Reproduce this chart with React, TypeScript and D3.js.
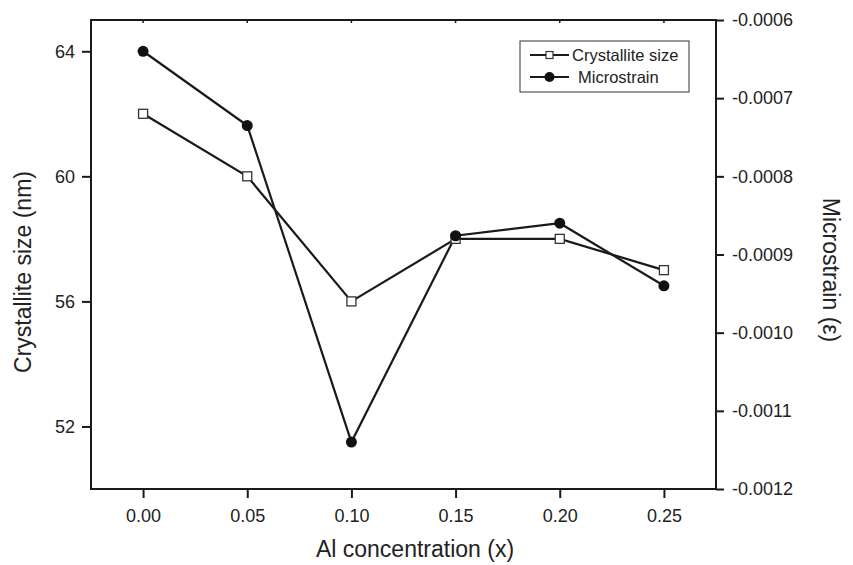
import React, {useEffect, useRef} from 'react';
import * as d3 from 'd3';

// Al concentration (x)
const concentrations = [0.0, 0.05, 0.1, 0.15, 0.2, 0.25];
// crystallite size, nm (left axis)
const crystalliteSize = [62, 60, 56, 58, 58, 57];
// microstrain (right axis)
const microstrain = [-0.00064, -0.000735, -0.00114, -0.000876, -0.00086, -0.00094];

const xTicks = [0, 0.05, 0.1, 0.15, 0.2, 0.25];
const leftTicks = [52, 56, 60, 64];
const rightTicks = [-0.0006, -0.0007, -0.0008, -0.0009, -0.001, -0.0011, -0.0012];

const W = 853;
const H = 565;
const margin = {left: 91, right: 137, top: 20, bottom: 76};
const FONT = '"Liberation Sans", Arial, sans-serif';

function App() {
  const ref = useRef<SVGSVGElement>(null);

  useEffect(() => {
    const svg = d3.select(ref.current);
    svg.selectAll('*').remove();

    const x0 = margin.left;
    const x1 = W - margin.right;
    const y0 = margin.top;
    const y1 = H - margin.bottom;

    const x = d3.scaleLinear().domain([-0.025, 0.275]).range([x0, x1]);
    const yL = d3.scaleLinear().domain([50, 65]).range([y1, y0]);
    const yR = d3.scaleLinear().domain([-0.0012, -0.0006]).range([y1, y0]);

    const styleAxis = (g) => {
      g.select('.domain').remove();
      g.selectAll('line').attr('stroke', '#1a1a1a').attr('stroke-width', 2);
      g.selectAll('text')
          .attr('font-family', FONT)
          .attr('font-size', 18)
          .attr('fill', '#222');
    };

    svg.append('g')
        .attr('transform', `translate(0,${y1})`)
        .call(d3.axisBottom(x).tickValues(xTicks).tickSize(9).tickPadding(11)
            .tickFormat((d) => d.toFixed(2)))
        .call(styleAxis);

    svg.append('g')
        .attr('transform', `translate(${x0},0)`)
        .call(d3.axisLeft(yL).tickValues(leftTicks).tickSize(9).tickPadding(7)
            .tickFormat((d) => String(d)))
        .call(styleAxis);

    svg.append('g')
        .attr('transform', `translate(${x1},0)`)
        .call(d3.axisRight(yR).tickValues(rightTicks).tickSize(8).tickPadding(8)
            .tickFormat((d) => d.toFixed(4)))
        .call(styleAxis);

    // frame
    svg.append('rect')
        .attr('x', x0).attr('y', y0)
        .attr('width', x1 - x0).attr('height', y1 - y0)
        .attr('fill', 'none')
        .attr('stroke', '#1a1a1a')
        .attr('stroke-width', 2);

    // small inward ticks on top axis
    svg.append('g').selectAll('line')
        .data(xTicks)
        .enter()
        .append('line')
        .attr('x1', (d) => x(d)).attr('x2', (d) => x(d))
        .attr('y1', y0).attr('y2', y0 + 3)
        .attr('stroke', '#1a1a1a')
        .attr('stroke-width', 1.5);

    const sizeLine = d3.line()
        .x((d, i) => x(concentrations[i]))
        .y((d) => yL(d));
    const strainLine = d3.line()
        .x((d, i) => x(concentrations[i]))
        .y((d) => yR(d));

    svg.append('path')
        .attr('d', sizeLine(crystalliteSize))
        .attr('fill', 'none')
        .attr('stroke', '#1a1a1a')
        .attr('stroke-width', 2.2);

    svg.append('path')
        .attr('d', strainLine(microstrain))
        .attr('fill', 'none')
        .attr('stroke', '#1a1a1a')
        .attr('stroke-width', 2.2);

    svg.append('g').selectAll('rect')
        .data(crystalliteSize)
        .enter()
        .append('rect')
        .attr('x', (d, i) => x(concentrations[i]) - 4.5)
        .attr('y', (d) => yL(d) - 4.5)
        .attr('width', 9).attr('height', 9)
        .attr('fill', 'white')
        .attr('stroke', '#333')
        .attr('stroke-width', 1.3);

    svg.append('g').selectAll('circle')
        .data(microstrain)
        .enter()
        .append('circle')
        .attr('cx', (d, i) => x(concentrations[i]))
        .attr('cy', (d) => yR(d))
        .attr('r', 5.5)
        .attr('fill', '#111');

    // legend
    const lg = svg.append('g');
    lg.append('rect')
        .attr('x', 520).attr('y', 41)
        .attr('width', 169).attr('height', 51)
        .attr('fill', 'white')
        .attr('stroke', '#333')
        .attr('stroke-width', 1);
    const items = [
      {label: 'Crystallite size', y: 55, tx: 572, marker: 'square'},
      {label: 'Microstrain', y: 77, tx: 578, marker: 'circle'},
    ];
    items.forEach((it) => {
      lg.append('line')
          .attr('x1', 530).attr('x2', 569)
          .attr('y1', it.y).attr('y2', it.y)
          .attr('stroke', '#1a1a1a')
          .attr('stroke-width', 2);
      if (it.marker === 'square') {
        lg.append('rect')
            .attr('x', 546).attr('y', it.y - 3.5)
            .attr('width', 7).attr('height', 7)
            .attr('fill', 'white')
            .attr('stroke', '#333')
            .attr('stroke-width', 1.2);
      } else {
        lg.append('circle')
            .attr('cx', 549.5).attr('cy', it.y)
            .attr('r', 5)
            .attr('fill', '#111');
      }
      lg.append('text')
          .attr('x', it.tx).attr('y', it.y + 6)
          .attr('font-family', FONT)
          .attr('font-size', 16.5)
          .attr('fill', '#222')
          .text(it.label);
    });

    // axis titles
    svg.append('text')
        .attr('x', 415).attr('y', 557)
        .attr('text-anchor', 'middle')
        .attr('font-family', FONT)
        .attr('font-size', 23)
        .attr('fill', '#222')
        .text('Al concentration (x)');

    svg.append('text')
        .attr('transform', 'translate(31,272) rotate(-90)')
        .attr('text-anchor', 'middle')
        .attr('font-family', FONT)
        .attr('font-size', 23)
        .attr('fill', '#222')
        .text('Crystallite size (nm)');

    svg.append('text')
        .attr('transform', 'translate(823,270) rotate(90)')
        .attr('text-anchor', 'middle')
        .attr('font-family', FONT)
        .attr('font-size', 23)
        .attr('fill', '#222')
        .text('Microstrain (\u03b5)');
  }, []);

  return (
    <svg ref={ref} width={W} height={H}
      style={{position: 'absolute', left: 0, top: 0, background: 'white'}}/>
  );
}

export default App;
